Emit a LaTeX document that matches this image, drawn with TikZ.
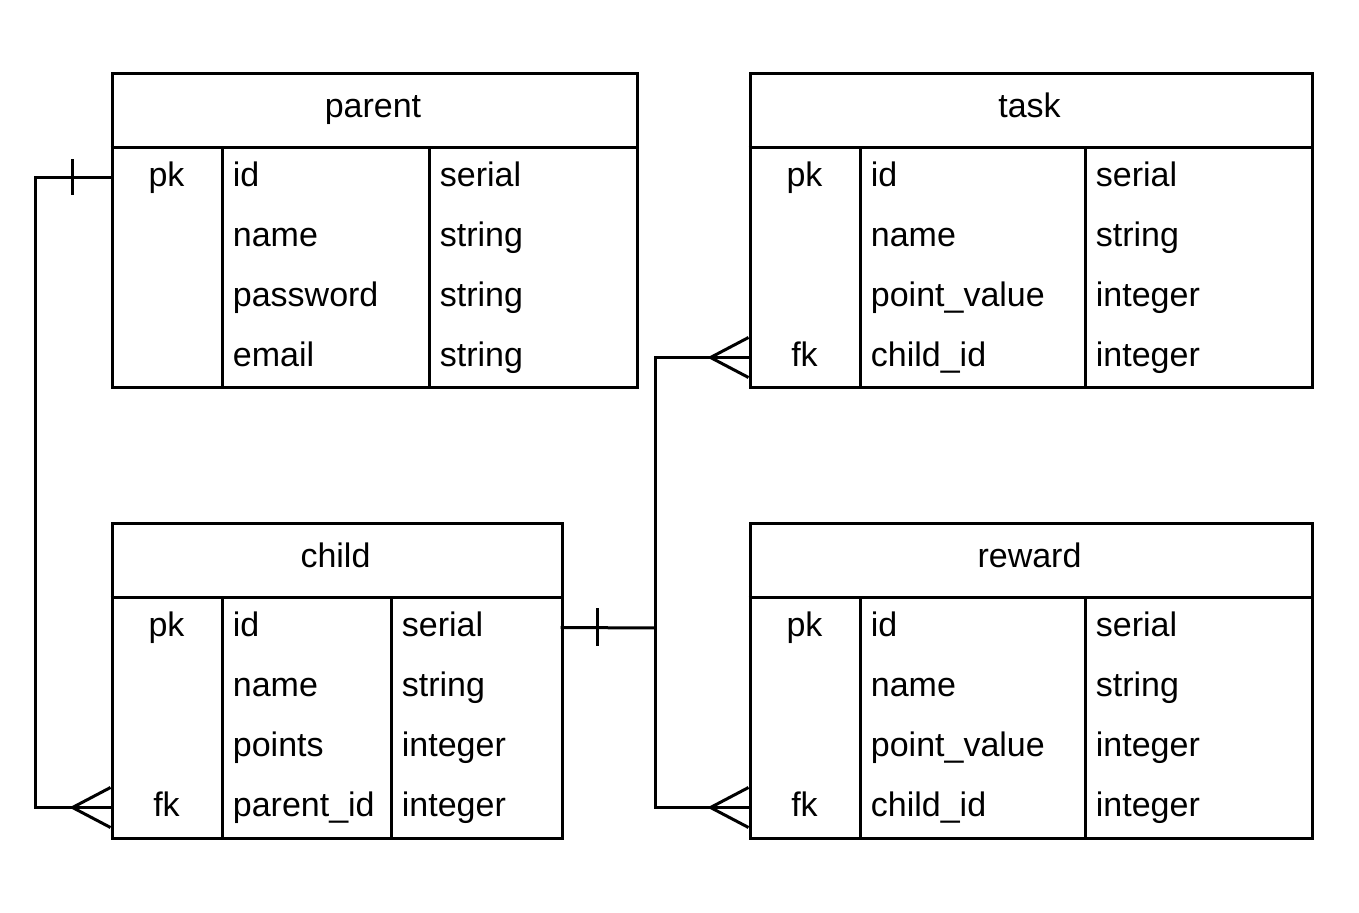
\documentclass[tikz,border=0pt]{standalone}
\usepackage{fontspec}
\setmainfont{Liberation Sans}
\newcommand\ertable[8]{%
  \node[tbl, minimum width={(#4)*0.5pt}] (#1) at (#2,#3) {};
  \draw[tl] (#2,#3+75) -- (#2+#4,#3+75);
  \draw[tl] (#2+112,#3+75) -- (#2+112,#3+314);
  \draw[tl] (#2+#6,#3+75) -- (#2+#6,#3+314);
  \node[txt, anchor=base] (#1-title) at (#2+#4/2,#3+37.5+8) {#7};
  \foreach \k/\n/\t [count=\i] in {#8} {
    \coordinate (#1-\i) at (#2,#3+75+30+\i*60-60);
    \coordinate (#1-e\i) at (#2+#4,#3+75+30+\i*60-60);
    \node[txt, anchor=base] (#1-k\i) at (#2+56,#3+75+30+\i*60-60+9) {\k};
    \node[txt, anchor=base west] (#1-n\i) at (#2+112+10,#3+75+30+\i*60-60+9) {\n};
    \node[txt, anchor=base west] (#1-t\i) at (#2+#6+10,#3+75+30+\i*60-60+9) {\t};
  }
}
\begin{document}
\begin{tikzpicture}[x=0.5pt,y=-0.5pt,
  tbl/.style={draw, line width=1.5pt, anchor=north west, inner sep=0pt, minimum height=157pt},
  tl/.style={line width=1.5pt},
  conn/.style={line width=1.5pt},
  txt/.style={inner sep=0pt, font=\fontsize{17}{20}\selectfont}]
\useasboundingbox (0,0) rectangle (1359,913);
\ertable{parent}{110.5}{72.5}{525}{112}{319}{parent}{pk/id/serial,/name/string,/password/string,/email/string}
\ertable{task}{748.5}{72.5}{562}{112}{337}{task}{pk/id/serial,/name/string,/point\_value/integer,fk/child\_id/integer}
\ertable{child}{110.5}{522.5}{450}{112}{281}{child}{pk/id/serial,/name/string,/points/integer,fk/parent\_id/integer}
\ertable{reward}{748.5}{522.5}{562}{112}{337}{reward}{pk/id/serial,/name/string,/point\_value/integer,fk/child\_id/integer}
% parent -> child
\draw[conn] (parent-1) -- ++(-75,0) |- (child-4);
\draw[conn] (parent-1) ++(-38,-18) -- ++(0,36);
\draw[conn] (child-4) ++(0,-20) -- ++(-38,20) -- ++(38,20);
% child -> task, reward
\coordinate (j) at (655,628);
\draw[conn] (child-e1) -- (j);
\draw[conn] (child-e1) ++(37,-19) -- ++(0,38);
\draw[conn] (task-4) -| (j);
\draw[conn] (reward-4) -| (j);
\draw[conn] (task-4) ++(0,-20) -- ++(-38,20) -- ++(38,20);
\draw[conn] (reward-4) ++(0,-20) -- ++(-38,20) -- ++(38,20);
\end{tikzpicture}
\end{document}
